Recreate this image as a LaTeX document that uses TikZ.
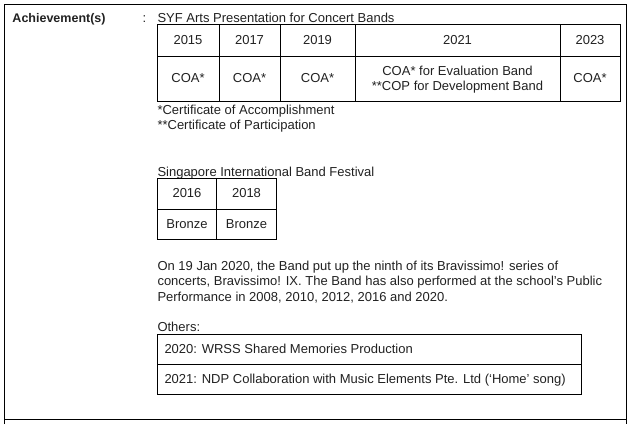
\documentclass[tikz,border=0pt]{standalone}
\usepackage{fontspec}
\setmainfont{Liberation Sans}
\usetikzlibrary{positioning}

\begin{document}
\begin{tikzpicture}[x=1pt, y=-1pt, line width=1pt,
  every node/.style = {font=\fontsize{13}{15}\selectfont, text=black!87, inner sep=0pt},
  cell/.style = {anchor=center, align=center},
  txt/.style = {anchor=base west}]
\useasboundingbox (0,0) rectangle (628,424);
% outer frame
\draw (4,424) -- (4,4) -- (626,4) -- (626,424);
\draw (4,419) -- (626,419);
\path (12,22) node[txt, font=\fontsize{12.5}{15}\selectfont\bfseries] (label) {Achievement(s)};
\path (142,22) node[txt] (colon) {:};

% SYF table
\path (157,22) node[txt] (syf) {SYF Arts Presentation for Concert Bands};
\draw (157,24) rectangle (620,101);
\draw (157,56) -- (620,56);
\draw (219,24) -- (219,101);
\draw (280,24) -- (280,101);
\draw (355,24) -- (355,101);
\draw (560,24) -- (560,101);
\path (188,40) node[cell] (y2015) {2015};
\path (249.5,40) node[cell] (y2017) {2017};
\path (317.5,40) node[cell] (y2019) {2019};
\path (457.5,40) node[cell] (y2021) {2021};
\path (590,40) node[cell] (y2023) {2023};
\path (188,78.5) node[cell] (r2015) {COA*};
\path (249.5,78.5) node[cell] (r2017) {COA*};
\path (317.5,78.5) node[cell] (r2019) {COA*};
\path (457.5,79.5) node[cell] (r2021) {COA* for Evaluation Band\\**COP for Development Band};
\path (590,78.5) node[cell] (r2023) {COA*};
\path (157,114.5) node[txt] (note1) {*Certificate of Accomplishment};
\path (157,129.5) node[txt] (note2) {**Certificate of Participation};

% SIBF table
\path (157,176) node[txt] (sibf) {Singapore International Band Festival};
\draw (157,178) rectangle (276,239);
\draw (157,209) -- (276,209);
\draw (216.5,178) -- (216.5,239);
\path (187,193.5) node[cell] (y2016) {2016};
\path (246.5,193.5) node[cell] (y2018) {2018};
\path (187,224) node[cell] (r2016) {Bronze};
\path (246.5,224) node[cell] (r2018) {Bronze};

% paragraph
\path (157,270) node[txt] (para1) {On 19 Jan 2020, the Band put up the ninth of its Bravissimo! series of};
\path (157,285.5) node[txt] (para2) {concerts, Bravissimo! IX. The Band has also performed at the school's Public};
\path (157,301) node[txt] (para3) {Performance in 2008, 2010, 2012, 2016 and 2020.};

% others table
\path (157,331) node[txt] (others) {Others:};
\draw (157,334) rectangle (581,394);
\draw (157,364) -- (581,364);
\path (164,353.5) node[txt] (oth1) {2020: WRSS Shared Memories Production};
\path (164,383.5) node[txt] (oth2) {2021: NDP Collaboration with Music Elements Pte. Ltd (`Home' song)};
\end{tikzpicture}
\end{document}
